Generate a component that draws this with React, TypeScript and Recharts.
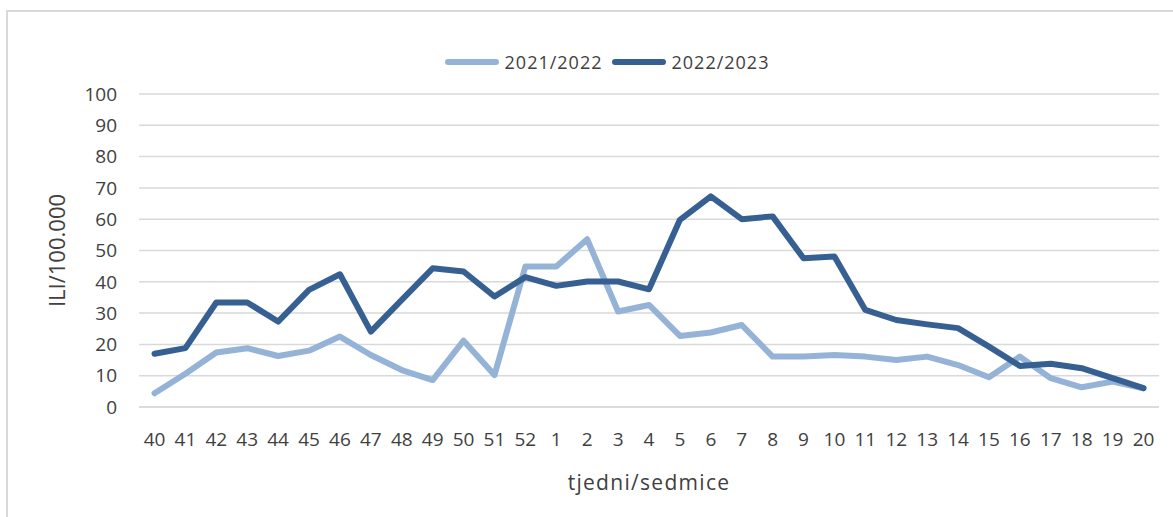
import React from "react";
import { LineChart, Line, XAxis, YAxis, CartesianGrid, Legend } from "recharts";

const weeks = [
  "40", "41", "42", "43", "44", "45", "46", "47", "48", "49", "50", "51", "52",
  "1", "2", "3", "4", "5", "6", "7", "8", "9", "10", "11", "12", "13", "14", "15", "16", "17", "18", "19", "20",
];

const season2122 = [
  4.4, 10.6, 17.4, 18.8, 16.3, 18, 22.5, 16.6, 11.8, 8.6, 21.2, 10.2, 44.9,
  44.9, 53.6, 30.5, 32.6, 22.7, 23.8, 26.2, 16.1, 16.1, 16.6, 16.1, 15, 16.1, 13.4, 9.5, 16.1, 9.2, 6.3, 8.1, 6,
];

const season2223 = [
  17, 18.8, 33.4, 33.4, 27.3, 37.4, 42.4, 24.1, 34.2, 44.3, 43.3, 35.3, 41.5,
  38.7, 40.1, 40.1, 37.6, 59.8, 67.3, 60, 60.9, 47.5, 48.1, 31, 27.8, 26.4, 25.2, 19.3, 13.1, 13.8, 12.4, 9.2, 6,
];

const yTicks = [0, 10, 20, 30, 40, 50, 60, 70, 80, 90, 100];

const data = weeks.map((w, i) => ({
  week: w,
  "2021/2022": season2122[i],
  "2022/2023": season2223[i],
}));

const FONT = "'Open Sans', sans-serif";
const TEXT = "#404040";

function LegendContent(props: any) {
  const items = props.payload || [];
  return (
    <div style={{ display: "flex", justifyContent: "center", alignItems: "center", paddingLeft: 40, fontFamily: FONT, fontSize: 18, color: TEXT }}>
      {items.map((it: any) => (
        <div key={it.value} style={{ display: "flex", alignItems: "center", marginLeft: 4, marginRight: 4 }}>
          <svg width={56} height={10} style={{ marginRight: 5 }}>
            <line x1={4} y1={5} x2={52} y2={5} stroke={it.color} strokeWidth={6} strokeLinecap="round" />
          </svg>
          <span style={{ letterSpacing: 1 }}>{it.value}</span>
        </div>
      ))}
    </div>
  );
}

export default function App() {
  return (
    <div style={{ position: "absolute", left: 0, top: 0, width: 1173, height: 517, background: "#fff", overflow: "hidden" }}>
      <div
        style={{
          position: "absolute",
          left: 6,
          top: 10,
          width: 1200,
          height: 600,
          borderLeft: "2px solid #D9D9D9",
          borderTop: "2px solid #D9D9D9",
        }}
      />
      <div style={{ position: "absolute", left: 0, top: 0 }}>
        <LineChart width={1173} height={517} data={data} margin={{ top: 94, right: 14, bottom: 0, left: 0 }}>
          <CartesianGrid vertical={false} stroke="#D9D9D9" strokeWidth={1.5} />
          <XAxis
            dataKey="week"
            height={110}
            interval={0}
            padding={{ left: 15.5, right: 15.5 }}
            axisLine={{ stroke: "#D9D9D9", strokeWidth: 1.5 }}
            tickLine={false}
            tickMargin={20}
            tick={{ fill: TEXT, fontSize: 19, fontFamily: FONT }}
            label={{ value: "tjedni/sedmice", position: "insideBottom", offset: 27, fill: TEXT, fontSize: 21, fontFamily: FONT, letterSpacing: 1.3 }}
          />
          <YAxis
            width={139}
            domain={[0, 100]}
            ticks={yTicks}
            interval={0}
            axisLine={false}
            tickLine={false}
            tickMargin={16}
            tick={{ fill: TEXT, fontSize: 19, fontFamily: FONT }}
            label={{ value: "ILI/100.000", angle: -90, position: "center", dx: -12.5, fill: TEXT, fontSize: 22, fontFamily: FONT }}
          />
          <Legend
            verticalAlign="middle"
            align="center"
            wrapperStyle={{ top: 50, left: 0, width: 1173 }}
            content={<LegendContent />}
          />
          <Line
            type="linear"
            dataKey="2021/2022"
            stroke="#95B3D7"
            strokeWidth={6}
            strokeLinejoin="round"
            strokeLinecap="round"
            dot={false}
            activeDot={false}
            isAnimationActive={false}
          />
          <Line
            type="linear"
            dataKey="2022/2023"
            stroke="#366092"
            strokeWidth={6}
            strokeLinejoin="round"
            strokeLinecap="round"
            dot={false}
            activeDot={false}
            isAnimationActive={false}
          />
        </LineChart>
      </div>
    </div>
  );
}
